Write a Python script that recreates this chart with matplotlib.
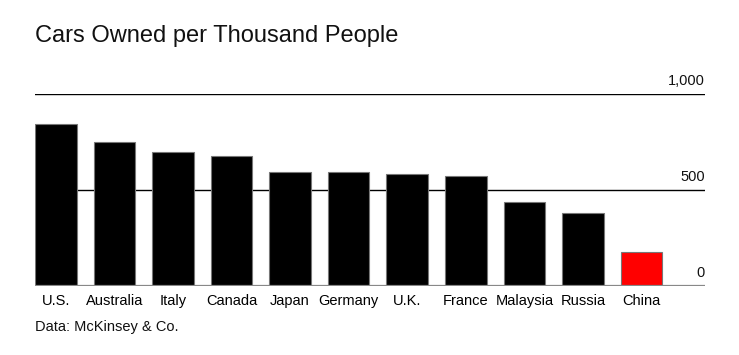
import matplotlib
matplotlib.use("Agg")
import matplotlib.pyplot as plt
from matplotlib import font_manager

names = {f.name for f in font_manager.fontManager.ttflist}
narrow = "Liberation Sans Narrow" if "Liberation Sans Narrow" in names else "Liberation Sans"

countries = ["U.S.", "Australia", "Italy", "Canada", "Japan", "Germany", "U.K.",
             "France", "Malaysia", "Russia", "China"]
cars_per_thousand = [842, 748, 696, 675, 592, 592, 581, 571, 436, 378, 176]
bar_colors = ["#000000"] * 10 + ["#ff0000"]
y_ticks = [0, 500, 1000]
y_tick_labels = ["0", "500", "1,000"]

W, H = 739, 355
fig = plt.figure(figsize=(W / 100, H / 100), dpi=100)
ax = fig.add_axes([35 / W, 1 - 286 / H, (705 - 35) / W, (286 - 94) / H])

x = list(range(len(countries)))
ax.bar(x, cars_per_thousand, width=0.71, color=bar_colors, edgecolor="#777777",
       linewidth=0.8, zorder=3)

ax.set_xlim(-0.355, len(countries) - 1 + 1.083)
ax.set_ylim(0, 1000)

for t in (500, 1000):
    ax.axhline(t, color="black", linewidth=1.0, zorder=1)
ax.axhline(0, color="#888888", linewidth=1.6, zorder=4)

for t, lab in zip(y_ticks, y_tick_labels):
    ax.annotate(lab, xy=(1, t), xycoords=("axes fraction", "data"),
                xytext=(0, 4), textcoords="offset points",
                ha="right", va="bottom", fontsize=10.5, family="Liberation Sans",
                color="#111111")

for s in ax.spines.values():
    s.set_visible(False)
ax.set_yticks([])
ax.set_xticks(x)
ax.set_xticklabels(countries, fontsize=10.5, family=narrow)
ax.tick_params(axis="x", length=0, pad=6)

fig.text(35 / W, 1 - 36 / H, "Cars Owned per Thousand People", fontsize=17,
         family="Liberation Sans", ha="left", va="center", color="#111111")
fig.text(35 / W, 1 - 327 / H, "Data: McKinsey & Co.", fontsize=10.5,
         family=narrow, ha="left", va="center", color="#111111")

fig.savefig("out.png", dpi=100)
